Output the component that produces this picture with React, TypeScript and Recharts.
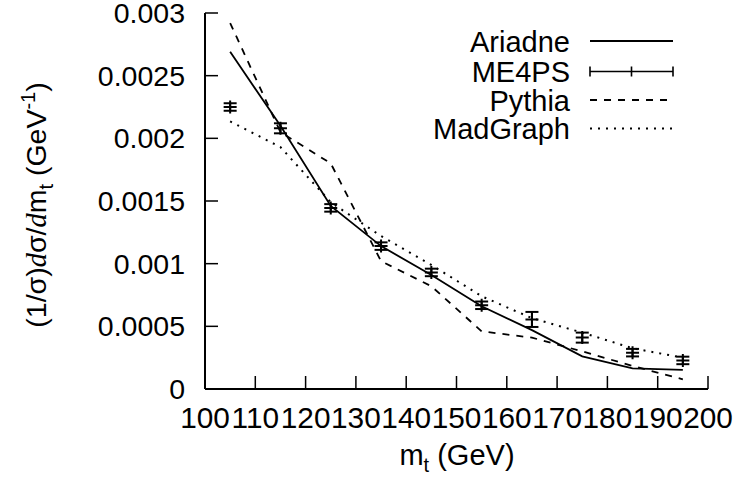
import React from "react";
import { ComposedChart, Line, Scatter, ErrorBar, XAxis, YAxis } from "recharts";

const binCenters = [105, 115, 125, 135, 145, 155, 165, 175, 185, 195];
const ariadne = [0.00269, 0.0021, 0.00146, 0.00114, 0.00091, 0.00066, 0.00047, 0.00026, 0.000165, 0.000152];
const me4ps = [0.00225, 0.00208, 0.001445, 0.00114, 0.00093, 0.000668, 0.000555, 0.00041, 0.00029, 0.000228];
const me4psErr = [0.00003, 0.00004, 0.00003, 0.00003, 0.00003, 0.00003, 0.00006, 0.00004, 0.00003, 0.00003];
const pythia = [0.00292, 0.00205, 0.0018, 0.00102, 0.00082, 0.00046, 0.00041, 0.0003, 0.000184, 0.000077];
const madgraph = [0.002135, 0.00193, 0.00149, 0.00122, 0.00099, 0.00074, 0.000565, 0.00045, 0.000325, 0.00025];

const xTicks = [100, 110, 120, 130, 140, 150, 160, 170, 180, 190, 200];
const yTicks = [0, 0.0005, 0.001, 0.0015, 0.002, 0.0025, 0.003];
const yTickLabels = ["0", "0.0005", "0.001", "0.0015", "0.002", "0.0025", "0.003"];

const seriesNames = ["Ariadne", "ME4PS", "Pythia", "MadGraph"];

const rows = binCenters.map((x, i) => ({
  x,
  ariadne: ariadne[i],
  me4ps: me4ps[i],
  me4psErr: me4psErr[i],
  pythia: pythia[i],
  madgraph: madgraph[i],
}));

const FONT = "'Liberation Sans', Arial, Helvetica, sans-serif";
const FS = 28.5;
const XFS = 29.8;
const TICK = 13;

const BottomTick = (props: any) => {
  const { x, y, payload } = props;
  return (
    <g>
      <line x1={x} y1={y} x2={x} y2={y - TICK} stroke="#000" strokeWidth={1.5} />
      <text x={x} y={y + 39} textAnchor="middle" fontFamily={FONT} fontSize={XFS} fill="#000">
        {payload.value}
      </text>
    </g>
  );
};

const TopTick = (props: any) => {
  const { x, y } = props;
  return <line x1={x} y1={y} x2={x} y2={y + TICK} stroke="#000" strokeWidth={1.5} />;
};

const LeftTick = (props: any) => {
  const { x, y, payload, index } = props;
  return (
    <g>
      <line x1={x} y1={y} x2={x + TICK} y2={y} stroke="#000" strokeWidth={1.5} />
      <text x={x - 20} y={y + 10} textAnchor="end" fontFamily={FONT} fontSize={FS} fill="#000">
        {yTickLabels[index] ?? String(payload.value)}
      </text>
    </g>
  );
};

const RightTick = (props: any) => {
  const { x, y } = props;
  return <line x1={x} y1={y} x2={x - TICK} y2={y} stroke="#000" strokeWidth={1.5} />;
};

const PlusShape = (props: any) => {
  const { cx, cy } = props;
  if (cx == null || cy == null) return null;
  return (
    <path
      d={`M${cx - 6.5},${cy}h13M${cx},${cy - 6.5}v13`}
      stroke="#000"
      strokeWidth={2}
      fill="none"
    />
  );
};

const LegendBlock = () => {
  const textX = 570;
  const x1 = 590;
  const x2 = 673;
  const baselines = [52, 81.5, 110.5, 139];
  const lineYs = [41, 71.5, 100, 128.5];
  return (
    <g>
      {seriesNames.map((n, i) => (
        <text key={n} x={textX} y={baselines[i]} textAnchor="end" fontFamily={FONT} fontSize={29} fill="#000">
          {n}
        </text>
      ))}
      <line x1={x1} y1={lineYs[0]} x2={x2} y2={lineYs[0]} stroke="#000" strokeWidth={1.8} />
      <path
        d={`M${x1},${lineYs[1]}H${x2}M${x1},${lineYs[1] - 5}v10M${x2},${lineYs[1] - 5}v10M${(x1 + x2) / 2},${lineYs[1] - 5}v10`}
        stroke="#000"
        strokeWidth={1.6}
        fill="none"
      />
      <line x1={x1} y1={lineYs[2]} x2={x2} y2={lineYs[2]} stroke="#000" strokeWidth={1.8} strokeDasharray="7 7" />
      <line x1={x1} y1={lineYs[3]} x2={x2} y2={lineYs[3]} stroke="#000" strokeWidth={2} strokeDasharray="2 6" />
    </g>
  );
};

const AxisTitles = () => (
  <g fontFamily={FONT} fill="#000">
    <text x={457} y={465} textAnchor="middle" fontSize={29}>
      m<tspan fontSize={20} dy={7}>t</tspan>
      <tspan dy={-7}> (GeV)</tspan>
    </text>
    <text transform="translate(46,205) rotate(-90)" textAnchor="middle" fontSize={FS}>
      (1/σ)<tspan fontFamily="'Liberation Serif', 'DejaVu Serif', serif" fontStyle="italic">d</tspan>σ/
      <tspan fontFamily="'Liberation Serif', 'DejaVu Serif', serif" fontStyle="italic">d</tspan>m
      <tspan fontSize={20} dy={7}>t</tspan>
      <tspan dy={-7}> (GeV</tspan>
      <tspan fontSize={20} dy={-11}>-1</tspan>
      <tspan dy={11}>)</tspan>
    </text>
  </g>
);

export default function App() {
  return (
    <div style={{ position: "absolute", left: 0, top: 0, width: 739, height: 482, background: "#fff" }}>
      <ComposedChart
        width={739}
        height={482}
        data={rows}
        margin={{ top: 13, right: 31, bottom: 33, left: 0 }}
      >
        <XAxis
          xAxisId="bottom"
          dataKey="x"
          type="number"
          domain={[100, 200]}
          ticks={xTicks}
          allowDataOverflow
          height={60}
          tickSize={0}
          tickMargin={0}
          tickLine={false}
          axisLine={{ stroke: "#000", strokeWidth: 2 }}
          tick={<BottomTick />}
          interval={0}
        />
        <XAxis
          xAxisId="top"
          orientation="top"
          dataKey="x"
          type="number"
          domain={[100, 200]}
          ticks={xTicks}
          allowDataOverflow
          height={0}
          tickSize={0}
          tickMargin={0}
          tickLine={false}
          axisLine={{ stroke: "#000", strokeWidth: 2 }}
          tick={<TopTick />}
          interval={0}
        />
        <YAxis
          yAxisId="left"
          type="number"
          domain={[0, 0.003]}
          ticks={yTicks}
          allowDataOverflow
          width={205}
          tickSize={0}
          tickMargin={0}
          tickLine={false}
          axisLine={{ stroke: "#000", strokeWidth: 2 }}
          tick={<LeftTick />}
          interval={0}
        />
        <YAxis
          yAxisId="right"
          orientation="right"
          type="number"
          domain={[0, 0.003]}
          ticks={yTicks}
          allowDataOverflow
          width={0}
          tickSize={0}
          tickMargin={0}
          tickLine={false}
          axisLine={{ stroke: "#000", strokeWidth: 2 }}
          tick={<RightTick />}
          interval={0}
        />
        <Line
          xAxisId="bottom"
          yAxisId="left"
          type="linear"
          dataKey="ariadne"
          stroke="#000"
          strokeWidth={1.8}
          dot={false}
          isAnimationActive={false}
        />
        <Line
          xAxisId="bottom"
          yAxisId="left"
          type="linear"
          dataKey="pythia"
          stroke="#000"
          strokeWidth={1.8}
          strokeDasharray="7 7"
          dot={false}
          isAnimationActive={false}
        />
        <Line
          xAxisId="bottom"
          yAxisId="left"
          type="linear"
          dataKey="madgraph"
          stroke="#000"
          strokeWidth={2}
          strokeDasharray="2 6"
          dot={false}
          isAnimationActive={false}
        />
        <Scatter
          xAxisId="bottom"
          yAxisId="left"
          dataKey="me4ps"
          shape={<PlusShape />}
          isAnimationActive={false}
        >
          <ErrorBar dataKey="me4psErr" direction="y" width={6.5} stroke="#000" strokeWidth={2} isAnimationActive={false} />
        </Scatter>
        <LegendBlock />
        <AxisTitles />
      </ComposedChart>
    </div>
  );
}
